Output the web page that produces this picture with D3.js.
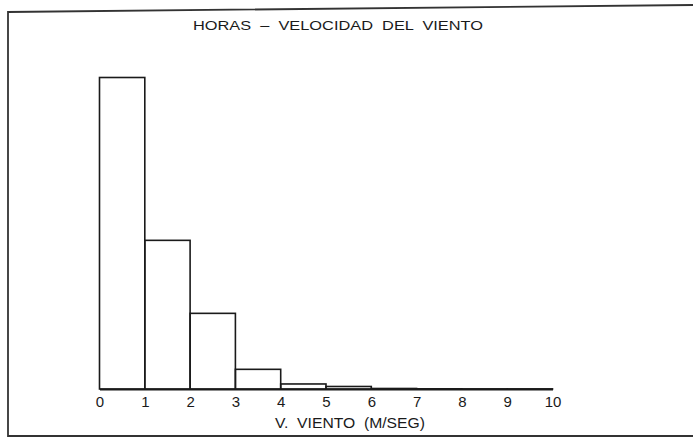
<!DOCTYPE html>
<html>
<head>
<meta charset="utf-8">
<script src="https://cdn.jsdelivr.net/npm/d3@7"></script>
<style>
  html, body { margin: 0; padding: 0; background: #fff; }
  svg { display: block; }
  text { white-space: pre; }
</style>
</head>
<body>
<script>
// ---- data ----
const binStarts = [0, 1, 2, 3, 4, 5, 6, 7, 8, 9];   // wind speed bins (m/s)
const hours = [4830, 2305, 1173, 305, 78, 39, 8, 3, 2, 2]; // hours per bin
const tickValues = [0, 1, 2, 3, 4, 5, 6, 7, 8, 9, 10];
const titleText = "HORAS  –  VELOCIDAD  DEL  VIENTO";
const xLabelText = "V.  VIENTO  (M/SEG)";

const W = 693, H = 439;
const svg = d3.select("body").append("svg").attr("width", W).attr("height", H);

const ink = "#1a1a1a";
const font = "'Liberation Sans', Arial, sans-serif";

// frame
svg.append("path")
  .attr("d", d3.line()([[693, 5], [8, 12], [8, 436], [693, 436]]))
  .attr("fill", "none").attr("stroke", "#333").attr("stroke-width", 1.8);

const x = d3.scaleLinear().domain([0, 10]).range([99.5, 552.5]);
const y = d3.scaleLinear().domain([0, 4830]).range([389, 77.5]);

// bars
svg.append("g").selectAll("rect")
  .data(binStarts.map((b, i) => ({ b, v: hours[i] })))
  .join("rect")
  .attr("x", d => x(d.b))
  .attr("y", d => y(d.v))
  .attr("width", d => x(d.b + 1) - x(d.b))
  .attr("height", d => y(0) - y(d.v))
  .attr("fill", "none")
  .attr("stroke", ink)
  .attr("stroke-width", 1.6);

// axis
const axis = svg.append("g")
  .attr("transform", `translate(0,${y(0)})`)
  .call(d3.axisBottom(x).tickValues(tickValues).tickSize(0).tickPadding(7.5).tickFormat(d3.format("d")));
axis.select(".domain").attr("stroke", ink).attr("stroke-width", 2);
axis.selectAll("text")
  .attr("font-family", font).attr("font-size", 15).attr("fill", ink);

// title
svg.append("text")
  .attr("x", 193).attr("y", 30)
  .attr("font-family", font).attr("font-size", 13).attr("fill", ink)
  .attr("textLength", 290).attr("lengthAdjust", "spacingAndGlyphs")
  .text(titleText);

// x label
svg.append("text")
  .attr("x", 275).attr("y", 428)
  .attr("font-family", font).attr("font-size", 15).attr("fill", ink)
  .attr("textLength", 150).attr("lengthAdjust", "spacingAndGlyphs")
  .text(xLabelText);
</script>
</body>
</html>
